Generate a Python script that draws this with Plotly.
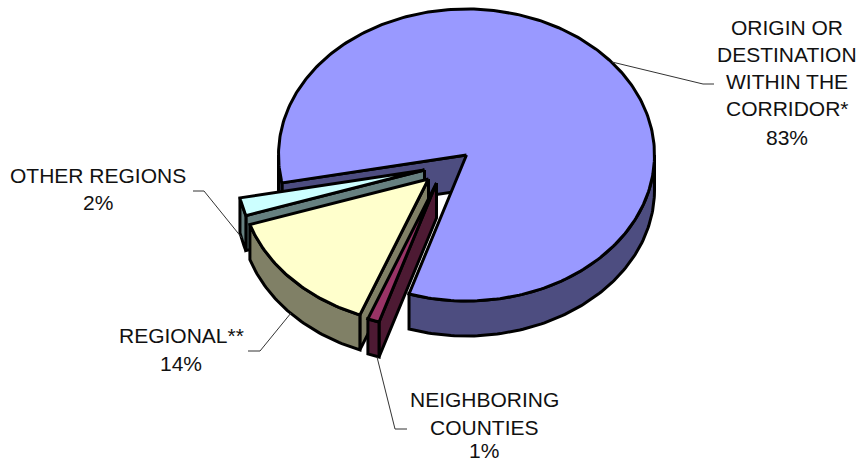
import math
import plotly.graph_objects as go

# Share of trips by origin/destination, in pie order (clockwise)
categories = ["ORIGIN OR DESTINATION WITHIN THE CORRIDOR*", "NEIGHBORING COUNTIES", "REGIONAL**", "OTHER REGIONS"]
shares = [83, 1, 14, 2]
label_lines = [
    ["ORIGIN OR", "DESTINATION", "WITHIN THE", "CORRIDOR*", "83%"],
    ["NEIGHBORING", "COUNTIES", "1%"],
    ["REGIONAL**", "14%"],
    ["OTHER REGIONS", "2%"],
]
top_colors = ["#9999FF", "#993366", "#FFFFCC", "#CCFFFF"]
side_colors = ["#4D4D80", "#4D1A33", "#808066", "#668080"]

# Projection of the tilted disc, in plot units (axes run over the page size)
CX, CY = 466.5, 155
RX, RY = 188, 146
DEPTH = 35
FIRST_ANGLE = 259
pull_x = [0, -30, -38, -42]
pull_y = [0, 28, 24, 15]
label_x = [787, 484, 181, 98]
label_y = [[27, 54, 81, 108, 137], [399, 427, 450], [335, 363], [175, 202]]
leaders = [
    [(612, 62), (703, 84), (714, 84)],
    [(377, 357), (395, 429), (407, 429)],
    [(291, 313), (260, 351), (248, 351)],
    [(242, 238), (204, 191), (193, 191)],
]
FONT = dict(family="Liberation Sans, Arial, sans-serif", size=21, color="#111111")


def rim_point(cx, cy, deg, drop=0):
    t = math.radians(deg)
    return cx + RX * math.sin(t), cy - RY * math.cos(t) + drop


def arc(cx, cy, a0, a1, drop=0, step=1.0):
    n = max(2, int(abs(a1 - a0) / step) + 1)
    return [rim_point(cx, cy, a0 + (a1 - a0) * i / (n - 1), drop) for i in range(n)]


def polygon(points, color):
    xs = [p[0] for p in points] + [points[0][0]]
    ys = [p[1] for p in points] + [points[0][1]]
    return go.Scatter(x=xs, y=ys, mode="lines", fill="toself", fillcolor=color,
                      line=dict(color="#000000", width=3), hoverinfo="skip", showlegend=False)


# Angular span of every slice, clockwise from the first angle
spans = []
angle = FIRST_ANGLE
for share in shares:
    spans.append((angle, angle + share * 3.6))
    angle += share * 3.6

fig = go.Figure()

# Painter's order: the large slice first, then the pulled slices from the back forward
for i in [0, 3, 2, 1]:
    start, end = spans[i]
    cx, cy = CX + pull_x[i], CY + pull_y[i]
    o = rim_point(cx, cy, start)
    fig.add_trace(polygon([(cx, cy), o, (o[0], o[1] + DEPTH), (cx, cy + DEPTH)], side_colors[i]))
    # The front half of the disc lies between 90 and 270 degrees
    for k in (-360, 0, 360):
        a0, a1 = max(start, 90 + k), min(end, 270 + k)
        if a0 < a1:
            fig.add_trace(polygon(arc(cx, cy, a0, a1) + arc(cx, cy, a1, a0, DEPTH), side_colors[i]))
    fig.add_trace(polygon([(cx, cy)] + arc(cx, cy, start, end), top_colors[i]))

# Leader lines from the slices to their labels
for path in leaders:
    fig.add_trace(go.Scatter(x=[p[0] for p in path], y=[p[1] for p in path], mode="lines",
                             line=dict(color="#333333", width=1), hoverinfo="skip", showlegend=False))

for lines, x, ys in zip(label_lines, label_x, label_y):
    for text, y in zip(lines, ys):
        fig.add_annotation(x=x, y=y, text=text, showarrow=False, xanchor="center", yanchor="middle", font=FONT)

fig.update_layout(
    width=861, height=462, margin=dict(l=0, r=0, t=0, b=0),
    paper_bgcolor="#FFFFFF", plot_bgcolor="#FFFFFF", showlegend=False,
    xaxis=dict(range=[0, 861], visible=False, fixedrange=True),
    yaxis=dict(range=[462, 0], visible=False, fixedrange=True),
)
fig.write_html("out.html", config={"displayModeBar": False})
